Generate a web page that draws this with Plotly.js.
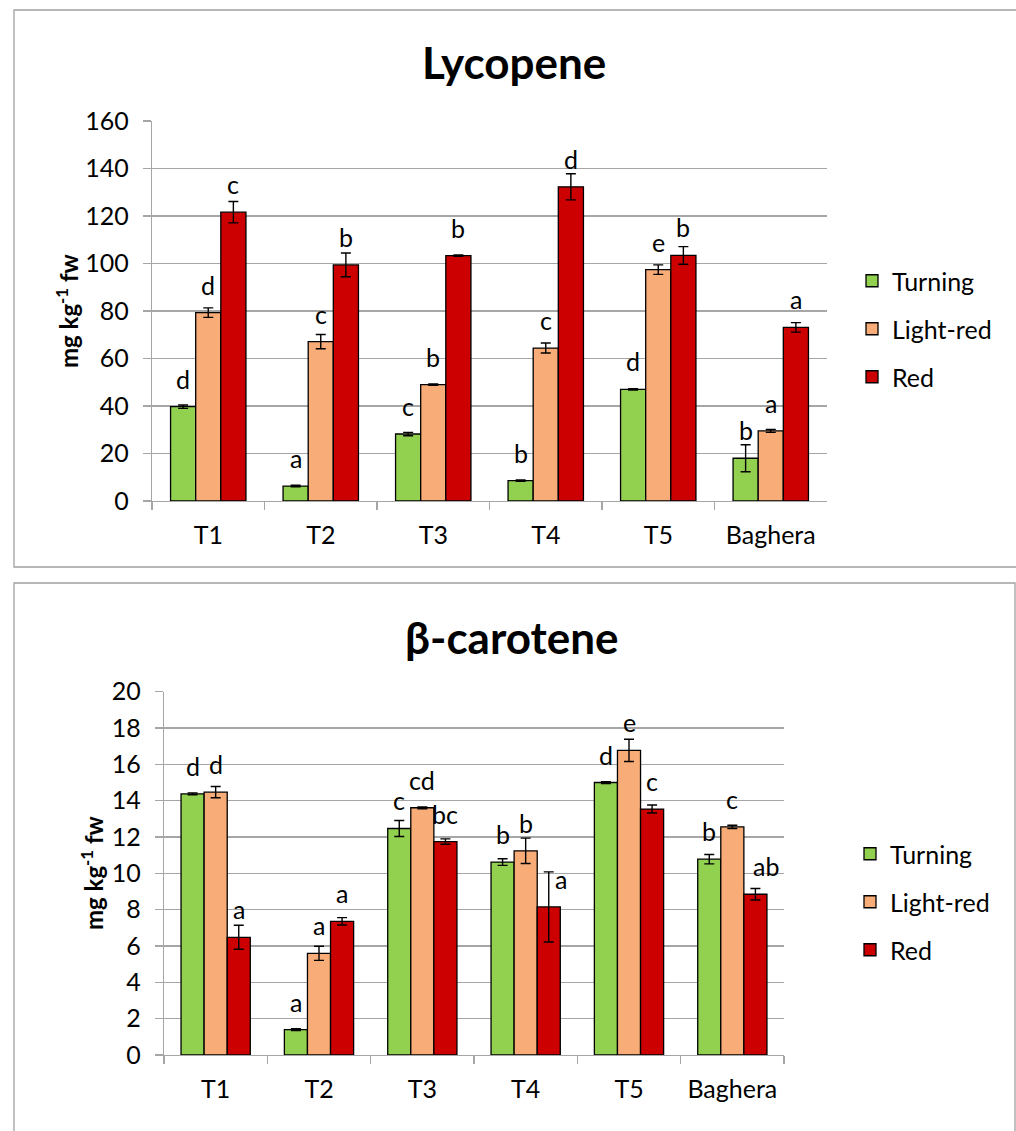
<!DOCTYPE html>
<html><head><meta charset="utf-8">
<script src="https://cdn.plot.ly/plotly-3.0.1.min.js"></script>
<style>body{margin:0;background:#fff}</style>
</head><body><div id="chart" style="width:1016px;height:1131px"></div>
<script>
const categories = ['T1','T2','T3','T4','T5','Baghera'];
const seriesNames = ['Turning','Light-red','Red'];
const seriesColors = ['#92D050','#F8AC78','#CC0000'];

// Lycopene (mg kg-1 fw)
const lycTurning = [39.7, 6.3, 28.2, 8.6, 47.0, 18.0];
const lycTurningErr = [0.7, 0.3, 0.7, 0.3, 0.3, 5.7];
const lycLightRed = [79.3, 67.1, 49.0, 64.4, 97.4, 29.5];
const lycLightRedErr = [2.0, 3.0, 0.3, 2.1, 2.0, 0.6];
const lycRed = [121.6, 99.4, 103.3, 132.3, 103.4, 73.1];
const lycRedErr = [4.5, 5.0, 0.3, 5.5, 3.7, 2.0];
const lycTurningLetters = ['d','a','c','b','d','b'];
const lycLightRedLetters = ['d','c','b','c','e','a'];
const lycRedLetters = ['c','b','b','d','b','a'];

// beta-carotene (mg kg-1 fw)
const betTurning = [14.38, 1.40, 12.47, 10.62, 15.0, 10.78];
const betTurningErr = [0.05, 0.05, 0.44, 0.18, 0.05, 0.26];
const betLightRed = [14.47, 5.60, 13.61, 11.24, 16.77, 12.56];
const betLightRedErr = [0.31, 0.39, 0.05, 0.70, 0.61, 0.09];
const betRed = [6.48, 7.36, 11.75, 8.15, 13.54, 8.85];
const betRedErr = [0.66, 0.20, 0.15, 1.93, 0.22, 0.32];
const betTurningLetters = ['d','a','c','b','d','b'];
const betLightRedLetters = ['d','a','cd','b','e','c'];
const betRedLetters = ['a','a','bc','a','c','ab'];

const FONT = 'Lato, "Open Sans", sans-serif';
const GRID = '#A6A6A6';
const W = 1016, H = 1131;
const px = v => v / W;
const py = v => 1 - v / H;
const BARGAP = 0.33;
const TXT = 25;

const charts = [
  {vals:[lycTurning,lycLightRed,lycRed], errs:[lycTurningErr,lycLightRedErr,lycRedErr],
   letters:[lycTurningLetters,lycLightRedLetters,lycRedLetters], xa:'x', ya:'y', legend:'legend'},
  {vals:[betTurning,betLightRed,betRed], errs:[betTurningErr,betLightRedErr,betRedErr],
   letters:[betTurningLetters,betLightRedLetters,betRedLetters], xa:'x2', ya:'y2', legend:'legend2'}
];

// small manual nudges of a couple of significance letters (as in the original figure)
const letterXShift = {'1-2-3': 12, '1-2-5': 11};

const traces = [];
const annotations = [];
charts.forEach((c, ci) => {
  seriesNames.forEach((name, j) => {
    traces.push({
      type:'bar', name:name, x:categories, y:c.vals[j],
      xaxis:c.xa, yaxis:c.ya, legend:c.legend, legendgroup:'g'+ci+'-'+j,
      marker:{color:seriesColors[j], line:{color:'#000', width:1.3}},
      error_y:{type:'data', array:c.errs[j], visible:true, color:'#000', thickness:1.4, width:5},
      hoverinfo:'skip'
    });
    const w = (1 - BARGAP) / 3;
    c.letters[j].forEach((t, i) => {
      annotations.push({
        xref:c.xa, yref:c.ya, x:i + (j - 1) * w, y:c.vals[j][i],
        xshift: letterXShift[ci+'-'+j+'-'+i] || 0,
        yanchor:'bottom', yshift:11, showarrow:false, text:t,
        font:{family:FONT, size:TXT, color:'#000'}
      });
    });
  });
});

// chart titles
annotations.push({xref:'paper', yref:'paper', x:px(514), y:py(62), xanchor:'center', yanchor:'middle',
  showarrow:false, text:'<b>Lycopene</b>', font:{family:FONT, size:44, color:'#000'}});
annotations.push({xref:'paper', yref:'paper', x:px(512), y:py(637), xanchor:'center', yanchor:'middle',
  showarrow:false, text:'<b>β-carotene</b>', font:{family:FONT, size:44, color:'#000'}});
// y-axis titles
annotations.push({xref:'paper', yref:'paper', x:px(67), y:py(311), xanchor:'center', yanchor:'middle',
  textangle:-90, showarrow:false, text:'<b>mg kg<sup>-1</sup> fw</b>', font:{family:FONT, size:24, color:'#000'}});
annotations.push({xref:'paper', yref:'paper', x:px(92), y:py(873), xanchor:'center', yanchor:'middle',
  textangle:-90, showarrow:false, text:'<b>mg kg<sup>-1</sup> fw</b>', font:{family:FONT, size:24, color:'#000'}});

const xBase = {
  type:'category', showline:true, linecolor:GRID, linewidth:1.3, ticks:'outside', tickson:'boundaries',
  ticklen:8, tickcolor:GRID, tickwidth:1.3, showgrid:false, zeroline:false, fixedrange:true,
  tickfont:{family:FONT, size:TXT, color:'#000'}, ticklabelstandoff:12
};
const yBase = {
  showline:true, linecolor:GRID, linewidth:1.3, ticks:'outside', ticklen:8, tickcolor:GRID, tickwidth:1.3,
  showgrid:true, gridcolor:GRID, gridwidth:1.3, zeroline:false, fixedrange:true, tick0:0,
  tickfont:{family:FONT, size:TXT, color:'#000'}, ticklabelstandoff:9
};

const legendBase = {
  xanchor:'left', yanchor:'top', font:{family:FONT, size:TXT, color:'#000'},
  tracegroupgap:12.5, bgcolor:'rgba(0,0,0,0)', itemclick:false, itemdoubleclick:false, traceorder:'grouped'
};

const layout = {
  width:W, height:H, margin:{l:0, r:0, t:0, b:0},
  paper_bgcolor:'#fff', plot_bgcolor:'#fff',
  font:{family:FONT, color:'#000'},
  barmode:'group', bargap:BARGAP, bargroupgap:0,
  showlegend:true,
  xaxis:Object.assign({}, xBase, {domain:[px(152), px(827)], anchor:'y'}),
  yaxis:Object.assign({}, yBase, {domain:[py(501), py(121)], anchor:'x', range:[0,160], dtick:20}),
  xaxis2:Object.assign({}, xBase, {domain:[px(164), px(784)], anchor:'y2'}),
  yaxis2:Object.assign({}, yBase, {domain:[py(1055), py(691.7)], anchor:'x2', range:[0,20], dtick:2}),
  legend:Object.assign({}, legendBase, {x:px(852), y:py(258)}),
  legend2:Object.assign({}, legendBase, {x:px(850), y:py(831)}),
  annotations:annotations,
  shapes:[
    {type:'rect', xref:'paper', yref:'paper', x0:px(14), x1:px(1020), y0:py(567), y1:py(10),
     line:{color:'#A0A0A0', width:1.3}, fillcolor:'rgba(0,0,0,0)', layer:'below'},
    {type:'rect', xref:'paper', yref:'paper', x0:px(14), x1:px(1015), y0:py(1140), y1:py(583),
     line:{color:'#A0A0A0', width:1.3}, fillcolor:'rgba(0,0,0,0)', layer:'below'}
  ]
};

Plotly.newPlot('chart', traces, layout, {displayModeBar:false, staticPlot:true});
</script>
</body></html>
